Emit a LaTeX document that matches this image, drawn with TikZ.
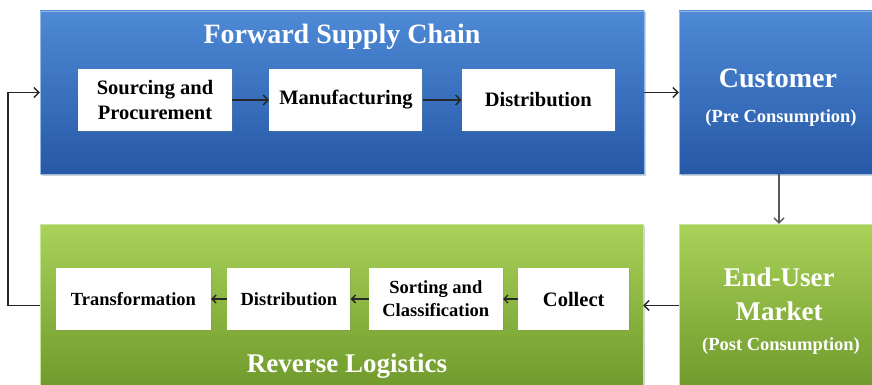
\documentclass[tikz,border=0pt]{standalone}
\usepackage{fontspec}
\setmainfont{Liberation Serif}
\usetikzlibrary{positioning,shadows,arrows.meta}
\definecolor{chainblue}{RGB}{78,138,214}
\definecolor{chainbluedark}{RGB}{38,88,166}
\definecolor{revgreen}{RGB}{168,210,88}
\definecolor{revgreendark}{RGB}{112,154,44}

\begin{document}
\begin{tikzpicture}[x=1pt, y=1pt]
  \tikzstyle{chain} = [rectangle, draw=chainblue!60!white, minimum width=604pt, minimum height=163pt,
                                    shade, top color=chainblue, bottom color=chainbluedark,
                                    drop shadow={shadow xshift=1.5pt, shadow yshift=-1.5pt, opacity=.35}]
  \tikzstyle{reverse} = [rectangle, draw=revgreen!60!white, minimum width=603pt, minimum height=163pt,
                                    shade, top color=revgreen, bottom color=revgreendark,
                                    drop shadow={shadow xshift=1.5pt, shadow yshift=-1.5pt, opacity=.35}]
  \tikzstyle{stage} = [rectangle, fill=white, minimum width=153pt, minimum height=62pt, align=center,
                                    font=\fontsize{20.5}{25}\selectfont\bfseries,
                                    drop shadow={shadow xshift=1pt, shadow yshift=-1pt, opacity=.25}]
  \tikzstyle{lowstage} = [font=\fontsize{18.5}{23}\selectfont\bfseries]
  \tikzstyle{title} = [text=white, inner sep=0pt, anchor=base, font=\fontsize{28}{32}\selectfont\bfseries]
  \tikzstyle{note} = [text=white, inner sep=0pt, anchor=base, font=\fontsize{18.5}{22}\selectfont\bfseries]
  \tikzstyle{flow} = [-{Straight Barb[length=5pt,width=10pt]}, line width=1.4pt, black!85]
  \tikzstyle{backflow} = [-{Straight Barb[length=4pt,width=8pt]}, line width=1.4pt, black!85]

\useasboundingbox (0,0) rectangle (872,384);
\clip (0,0) rectangle (872,384);
\fill[white] (0,0) rectangle (872,384);

\node[chain] (fwd) at (342,291.5) {};
\node[chain, minimum width=200pt] (cust) at (779,291.5) {};
\node[reverse] (rev) at (341.5,78.5) {};
\node[reverse, minimum width=200pt] (user) at (779,78.5) {};

\node[title] (fwdname) at (342,341) {Forward Supply Chain};
\node[title, font=\fontsize{27}{32}\selectfont\bfseries] (revname) at (347,12) {Reverse Logistics};
\node[title] (custname) at (778,297) {Customer};
\node[note] (custnote) at (781,262) {(Pre Consumption)};
\node[title, font=\fontsize{27}{32}\selectfont\bfseries] (username) at (779,98) {End-User};
\node[title, font=\fontsize{27}{32}\selectfont\bfseries] (usermkt) at (779,64) {Market};
\node[note] (usernote) at (781,34) {(Post Consumption)};

\node[stage, minimum width=154pt] (src) at (155,284) {Sourcing and\\Procurement};
\node[stage, right=37pt of src] (manu) {Manufacturing};
\node[stage, right=39pt of manu] (fdist) {Distribution};

\node[stage, lowstage, minimum width=155pt] (trans) at (133.5,85) {Transformation};
\node[stage, lowstage, minimum width=123pt, right=16pt of trans] (rdist) {Distribution};
\node[stage, lowstage, minimum width=134pt, right=18pt of rdist] (sort) {Sorting and\\Classification};
\node[stage, minimum width=111pt, right=15pt of sort] (coll) {Collect};

\draw[flow] (src) -- (manu);
\draw[flow] (manu) -- (fdist);
\draw[flow] (fwd) -- (cust);
\draw[flow, black!65] (cust) -- (user);
\draw[flow] (user) -- (rev);
\draw[backflow] (coll) -- (sort);
\draw[backflow] (sort) -- (rdist);
\draw[backflow] (rdist) -- (trans);
\draw[flow] (rev.west) -- ++(-32,0) |- (fwd.west);
\end{tikzpicture}
\end{document}
